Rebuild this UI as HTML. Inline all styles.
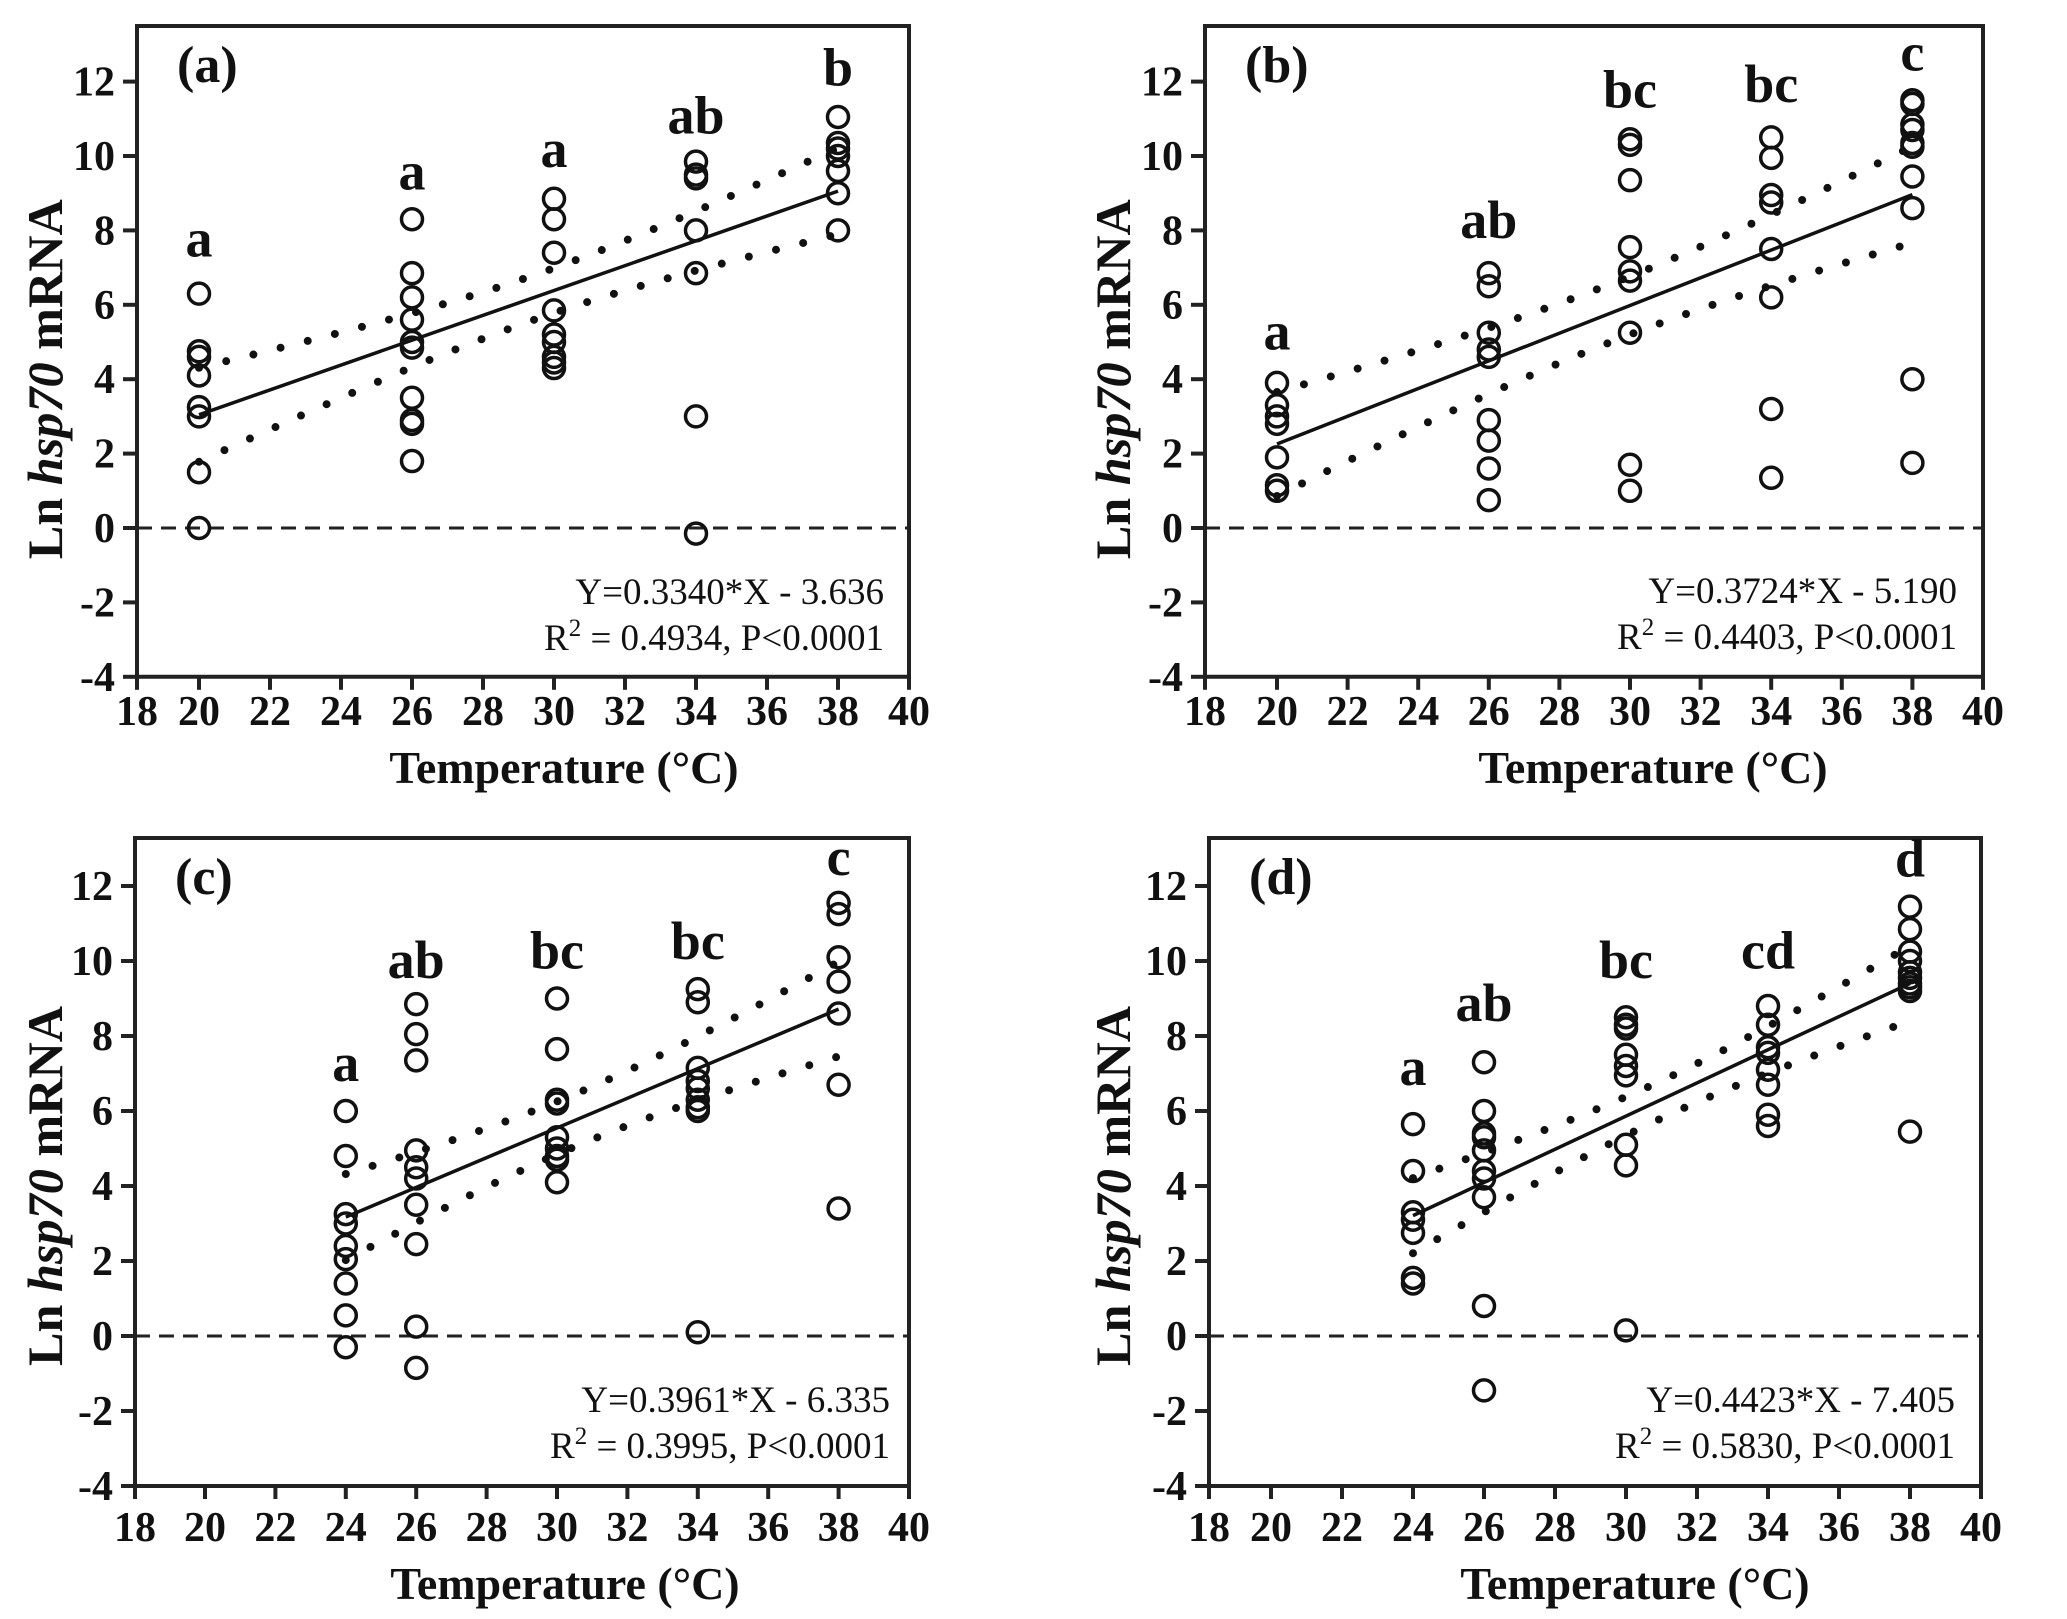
<!DOCTYPE html>
<html><head><meta charset="utf-8"><style>
html,body{margin:0;padding:0;background:#fff;}
svg{display:block;}
text{font-family:"Liberation Serif","DejaVu Serif",serif;fill:#111;}
</style></head><body>
<svg id="fig" width="2067" height="1619" viewBox="0 0 2067 1619" xmlns="http://www.w3.org/2000/svg"></svg>
<script>
// ---- data ----
const tempsA = [20, 26, 30, 34, 38];
const valuesA = [
  [6.3, 4.75, 4.6, 4.1, 3.25, 3.0, 1.5, 0.0],
  [8.3, 6.85, 6.2, 5.6, 5.0, 4.85, 3.5, 2.9, 2.8, 1.8],
  [8.85, 8.3, 7.4, 5.85, 5.2, 5.0, 4.6, 4.45, 4.3],
  [9.85, 9.5, 9.4, 8.0, 6.85, 3.0, -0.15],
  [11.05, 10.35, 10.2, 10.0, 9.6, 9.0, 8.0]
];
const lettersA = ["a", "a", "a", "ab", "b"];
const letterYA = [7.3, 9.1, 9.7, 10.6, 11.9];
const fitA = [0.3340, -3.636];
const bandA = [29.5, 0.6, 0.117];

const tempsB = [20, 26, 30, 34, 38];
const valuesB = [
  [3.9, 3.3, 3.0, 2.8, 1.9, 1.15, 1.0],
  [6.85, 6.5, 5.25, 4.8, 4.6, 2.9, 2.35, 1.6, 0.75],
  [10.45, 10.3, 9.35, 7.55, 6.9, 6.65, 5.25, 1.7, 1.0],
  [10.5, 9.95, 8.95, 8.75, 7.5, 6.2, 3.2, 1.35],
  [11.5, 11.4, 10.85, 10.7, 10.35, 10.25, 9.45, 8.6, 4.0, 1.75]
];
const lettersB = ["a", "ab", "bc", "bc", "c"];
const letterYB = [4.8, 7.8, 11.3, 11.45, 12.3];
const fitB = [0.3724, -5.190];
const bandB = [29.5, 0.78, 0.122];

const tempsC = [24, 26, 30, 34, 38];
const valuesC = [
  [6.0, 4.8, 3.25, 3.0, 2.4, 2.05, 1.4, 0.55, -0.3],
  [8.85, 8.05, 7.35, 4.95, 4.5, 4.2, 3.5, 2.45, 0.25, -0.85],
  [9.0, 7.65, 6.3, 6.2, 5.3, 5.0, 4.8, 4.7, 4.1],
  [9.25, 8.9, 7.15, 6.8, 6.6, 6.3, 6.1, 6.0, 0.1],
  [11.55, 11.25, 10.1, 9.45, 8.6, 6.7, 3.4]
];
const lettersC = ["a", "ab", "bc", "bc", "c"];
const letterYC = [6.8, 9.55, 9.8, 10.05, 12.3];
const fitC = [0.3961, -6.335];
const bandC = [30.5, 0.7, 0.14];

const tempsD = [24, 26, 30, 34, 38];
const valuesD = [
  [5.65, 4.4, 3.3, 3.1, 2.75, 1.55, 1.4],
  [7.3, 6.0, 5.4, 5.3, 4.95, 4.4, 4.2, 3.7, 0.8, -1.45],
  [8.5, 8.3, 8.2, 7.5, 7.2, 6.95, 5.1, 4.55, 0.15],
  [8.8, 8.3, 7.7, 7.55, 7.1, 6.7, 5.9, 5.6],
  [11.45, 10.85, 10.25, 10.0, 9.7, 9.55, 9.4, 9.3, 9.2, 5.45]
];
const lettersD = ["a", "ab", "bc", "cd", "d"];
const letterYD = [6.7, 8.4, 9.55, 9.8, 12.25];
const fitD = [0.4423, -7.405];
const bandD = [31, 0.5, 0.124];

const xTicks = [18, 20, 22, 24, 26, 28, 30, 32, 34, 36, 38, 40];
const yTicks = [-4, -2, 0, 2, 4, 6, 8, 10, 12];

const NS = "http://www.w3.org/2000/svg";
const svg = document.getElementById("fig");
function mk(tag, attrs, parent, txt) {
  const e = document.createElementNS(NS, tag);
  for (const k in attrs) e.setAttribute(k, attrs[k]);
  if (txt !== undefined) e.textContent = txt;
  (parent || svg).appendChild(e);
  return e;
}

function panel(o) {
  const g = mk("g", {});
  
  
  const X = v => o.x20 + (v - 20) * o.ux;
  const Y = v => o.y0 - v * o.uy;
  const bottom = Y(-4);
  const right = X(40);
  const fr = mk("path", {d: `M${o.axisX},${bottom} L${o.axisX},${o.top} L${right},${o.top} L${right},${bottom} Z`, fill: "none", stroke: "#222", "stroke-width": 4}, g);
  
  
  xTicks.forEach(t => {
    const tx = t === 18 ? o.axisX : X(t);
    const tk = mk("line", {x1: tx, x2: tx, y1: bottom, y2: bottom + 13, stroke: "#222", "stroke-width": 4}, g);
    
    
    const tl = mk("text", {x: tx, y: o.xLabY, "text-anchor": "middle", "font-size": 42, "font-weight": "bold"}, g, String(t));
    
    
  });
  yTicks.forEach(t => {
    const ty = Y(t);
    const tk = mk("line", {x1: o.axisX - 14, x2: o.axisX, y1: ty, y2: ty, stroke: "#222", "stroke-width": 4}, g);
    
    
    const tl = mk("text", {x: o.axisX - 22, y: ty + 14, "text-anchor": "end", "font-size": 42, "font-weight": "bold"}, g, String(t));
    
    
  });
  const zl = mk("line", {x1: o.axisX, x2: right, y1: Y(0), y2: Y(0), stroke: "#222", "stroke-width": 3, "stroke-dasharray": "15 9"}, g);
  
  
  const x0 = o.temps[0], x1 = o.temps[o.temps.length - 1];
  const f = v => o.fit[0] * v + o.fit[1];
  const fl = mk("line", {x1: X(x0), y1: Y(f(x0)), x2: X(x1), y2: Y(f(x1)), stroke: "#111", "stroke-width": 3.5}, g);
  
  
  [1, -1].forEach(sg => {
    let d = "";
    for (let i = 0; i <= 60; i++) {
      const v = x0 + (x1 - x0) * i / 60;
      const h = Math.sqrt(o.band[1] * o.band[1] + Math.pow(o.band[2] * (v - o.band[0]), 2));
      d += (i ? "L" : "M") + X(v).toFixed(1) + "," + Y(f(v) + sg * h).toFixed(1);
    }
    const bp = mk("path", {d: d, fill: "none", stroke: "#111", "stroke-width": 8, "stroke-linecap": "round", "stroke-dasharray": "0 28"}, g);
    
    
  });
  o.temps.forEach((t, i) => {
    o.vals[i].forEach(v => {
      const c = mk("circle", {cx: X(t), cy: Y(v), r: 10.5, fill: "none", stroke: "#111", "stroke-width": 3.5}, g);
      
      
    });
    const lt = mk("text", {x: X(t), y: Y(o.letY[i]), "text-anchor": "middle", "font-size": 54, "font-weight": "bold"}, g, o.letters[i]);
    
    
  });
  const pl = mk("text", {x: o.axisX + 40, y: o.top + 56, "font-size": 52, "font-weight": "bold"}, g, "(" + o.id + ")");
  
  
  const e1 = mk("text", {x: o.eqX, y: o.eqY, "text-anchor": "end", "font-size": 37}, g, o.eq1);
  
  
  const e2 = mk("text", {x: o.eqX, y: o.eqY + 46, "text-anchor": "end", "font-size": 37}, g);
  
  
  mk("tspan", {}, e2, "R");
  mk("tspan", {dy: -14, "font-size": 25}, e2, "2");
  mk("tspan", {dy: 14}, e2, " = " + o.eq2);
  const xt = mk("text", {x: o.xTitleX, y: o.xLabY + 58, "text-anchor": "middle", "font-size": 46, "font-weight": "bold"}, g, "Temperature (°C)");
  
  
  const yc = Y(4);
  const yt = mk("text", {x: 0, y: 0, "text-anchor": "middle", "font-size": 50, "font-weight": "bold", transform: `translate(${o.yTitleX},${yc}) rotate(-90)`, textLength: 360, lengthAdjust: "spacingAndGlyphs"}, g);
  
  
  mk("tspan", {}, yt, "Ln ");
  mk("tspan", {"font-style": "italic"}, yt, "hsp70");
  mk("tspan", {}, yt, " mRNA");
}

panel({id: "a", temps: tempsA, vals: valuesA, letters: lettersA, letY: letterYA, fit: fitA, band: bandA,
  axisX: 137, x20: 199, ux: 35.5, y0: 528, uy: 37.2, top: 26, xLabY: 725, eqX: 884, eqY: 604,
  eq1: "Y=0.3340*X - 3.636", eq2: "0.4934, P<0.0001", xTitleX: 564, yTitleX: 62});
panel({id: "b", temps: tempsB, vals: valuesB, letters: lettersB, letY: letterYB, fit: fitB, band: bandB,
  axisX: 1205, x20: 1277, ux: 35.3, y0: 528, uy: 37.2, top: 26, xLabY: 725, eqX: 1957, eqY: 603,
  eq1: "Y=0.3724*X - 5.190", eq2: "0.4403, P<0.0001", xTitleX: 1653, yTitleX: 1130});
panel({id: "c", temps: tempsC, vals: valuesC, letters: lettersC, letY: letterYC, fit: fitC, band: bandC,
  axisX: 135, x20: 205, ux: 35.2, y0: 1336, uy: 37.5, top: 838, xLabY: 1541, eqX: 890, eqY: 1412,
  eq1: "Y=0.3961*X - 6.335", eq2: "0.3995, P<0.0001", xTitleX: 565, yTitleX: 62});
panel({id: "d", temps: tempsD, vals: valuesD, letters: lettersD, letY: letterYD, fit: fitD, band: bandD,
  axisX: 1209, x20: 1271, ux: 35.5, y0: 1336, uy: 37.5, top: 838, xLabY: 1541, eqX: 1955, eqY: 1412,
  eq1: "Y=0.4423*X - 7.405", eq2: "0.5830, P<0.0001", xTitleX: 1635, yTitleX: 1130});
</script>
</body></html>
